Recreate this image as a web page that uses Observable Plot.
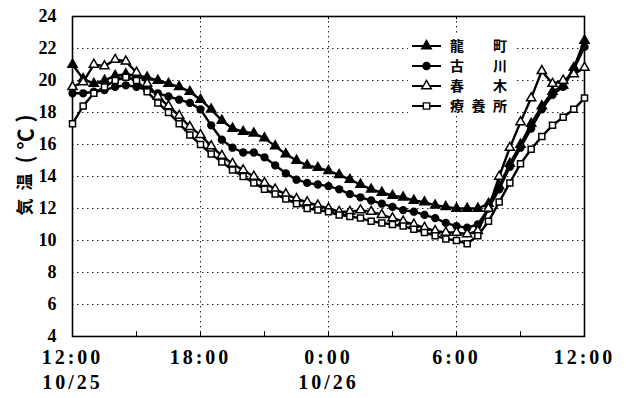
<!DOCTYPE html>
<html><head><meta charset="utf-8">
<script src="https://cdn.jsdelivr.net/npm/d3@7"></script>
<script src="https://cdn.jsdelivr.net/npm/@observablehq/plot@0.6"></script>
<style>
body{margin:0;background:#fff;}
#wrap{position:relative;width:632px;height:398px;}
</style>
</head><body><div id="wrap"></div>
<script>
// hours since 12:00 on 10/25
const hours = [0,0.5,1,1.5,2,2.5,3,3.5,4,4.5,5,5.5,6,6.5,7,7.5,8,8.5,9,9.5,10,10.5,11,11.5,12,12.5,13,13.5,14,14.5,15,15.5,16,16.5,17,17.5,18,18.5,19,19.5,20,20.5,21,21.5,22,22.5,23,23.5,24];
const seriesNames = ["龍町","古川","春木","療養所"];
const ryumachi = [21.0,20.1,19.8,20.0,20.3,20.4,20.3,20.2,20.0,19.8, 19.6,19.3,18.8,18.2,17.5,17.0,16.8,16.7,16.4,15.9, 15.4,15.0,14.7,14.55,14.35,14.1,13.8,13.5,13.2,13.0, 12.8,12.7,12.5,12.4,12.2,12.1,12.0,12.0,12.0,12.3, 13.4,14.8,16.0,17.3,18.4,19.3,19.7,20.8,22.5];
const furukawa = [19.2,19.2,19.3,19.4,19.6,19.7,19.6,19.4,19.2,19.0, 18.8,18.6,18.2,17.2,16.3,15.8,15.5,15.5,15.2,14.7, 14.2,13.8,13.6,13.5,13.4,13.2,12.9,12.7,12.5,12.3, 12.1,11.9,11.8,11.6,11.4,11.1,10.9,10.8,11.0,12.0, 13.2,14.6,15.8,17.0,18.2,19.1,19.6,20.7,22.1];
const haruki = [19.6,19.9,21.0,20.9,21.3,21.2,20.5,19.8,19.0,18.4, 17.8,17.1,16.6,15.9,15.3,14.8,14.4,14.0,13.6,13.2, 12.9,12.6,12.4,12.2,12.0,11.8,11.8,11.9,11.8,11.6, 11.4,11.2,11.0,10.8,10.6,10.5,10.5,10.4,10.6,12.0, 14.0,15.8,17.4,18.9,20.6,19.8,20.0,20.4,20.8];
const ryoyosho = [17.3,18.4,19.2,19.6,20.0,20.2,20.0,19.3,18.6,18.0, 17.3,16.6,16.0,15.4,14.9,14.4,14.0,13.6,13.2,12.9, 12.6,12.3,12.0,11.9,11.8,11.6,11.5,11.4,11.2,11.1, 11.0,10.9,10.7,10.5,10.3,10.1,10.0,9.8,10.3,11.2, 12.4,13.6,14.8,15.7,16.5,17.2,17.7,18.2,18.9];
const yTicks = [4,6,8,10,12,14,16,18,20,22,24];
const yGrid = [6,8,10,12,14,16,18,20,22];
const xTicks = [0,6,12,18,24];
const xTickLabels = ["12:00\n10/25","18:00","0:00\n10/26","6:00","12:00"];
const xGrid = [6,12,18];
const xMinor = [3,6,9,12,15,18,21];
const yLabelParts = ["気","温","(℃)"];

const values = [ryumachi, furukawa, haruki, ryoyosho];
const styles = [
  {symbol:"triangle", fill:"#000"},
  {symbol:"circle", fill:"#000"},
  {symbol:"triangle", fill:"#fff"},
  {symbol:"square", fill:"#fff"}
];
const table = [];
seriesNames.forEach((name, s) => values[s].forEach((t, i) => table.push({name, s, h: hours[i], t})));
const labelMap = new Map(xTicks.map((d,i)=>[d, xTickLabels[i]]));

const serif = "'Liberation Serif', 'DejaVu Serif', serif";
const cjk = "'Noto Sans CJK JP', 'Noto Sans CJK SC', sans-serif";

const marks = [
  Plot.gridY(yGrid, {stroke:"#000", strokeOpacity:0.85, strokeDasharray:"1.5,3.5", strokeWidth:1}),
  Plot.gridX(xGrid, {stroke:"#000", strokeOpacity:0.85, strokeDasharray:"1.5,3.5", strokeWidth:1}),
  Plot.ruleX(xMinor, {y1:4, y2:4.3, stroke:"#000", strokeWidth:1}),
  Plot.ruleX(xGrid, {y1:24, y2:23.8, stroke:"#000", strokeWidth:1}),
  Plot.frame({stroke:"#000", strokeWidth:1.6}),
  Plot.axisY({ticks:yTicks, tickSize:0, tickPadding:16, label:null, fontFamily:serif, fontSize:18, fontWeight:"bold"}),
  Plot.axisX({ticks:xTicks, tickSize:0, tickPadding:10, label:null, tickFormat:d=>labelMap.get(d), fontFamily:serif, fontSize:20, fontWeight:"bold", lineHeight:1.25}),
  Plot.line(table, {x:"h", y:"t", z:"name", stroke:"#000", strokeWidth:2.4})
];
seriesNames.forEach((name, s) => {
  marks.push(Plot.dot(table.filter(d=>d.s===s), {x:"h", y:"t", symbol:()=>styles[s].symbol, r:3.4, fill:styles[s].fill, stroke:"#000", strokeWidth:1.5}));
});

const chart = Plot.plot({
  width:632, height:398,
  marginLeft:72, marginRight:48, marginTop:16, marginBottom:62,
  x:{domain:[0,24]},
  y:{domain:[4,24]},
  symbol:{type:"identity"},
  style:{background:"#fff", color:"#000"},
  marks
});
document.getElementById("wrap").appendChild(chart);

const svg = d3.select(chart);
svg.selectAll('g[aria-label="x-axis tick label"] text').attr("letter-spacing", 3);

// rotated y-axis title, read bottom to top
const yt = svg.append("g").attr("class","y-title");
const partPos = [{y:207, size:17, ls:0}, {y:182, size:17, ls:0}, {y:136, size:21, ls:6}];
yLabelParts.forEach((p, i) => {
  yt.append("text").attr("transform", `translate(25,${partPos[i].y}) rotate(-90)`)
    .attr("text-anchor","middle").attr("dy","0.36em").attr("letter-spacing", partPos[i].ls)
    .attr("font-family", cjk).attr("font-weight","bold").attr("font-size", partPos[i].size)
    .attr("fill","#000").text(p);
});

// legend inside the plot area (top right)
const lg = svg.append("g").attr("class","legend");
lg.append("rect").attr("x",408).attr("y",36).attr("width",106).attr("height",80).attr("fill","#fff");
const rows = [46, 66, 86, 106];
const sym = {triangle: d3.symbolTriangle, circle: d3.symbolCircle, square: d3.symbolSquare};
seriesNames.forEach((name, s) => {
  const y = rows[s];
  lg.append("line").attr("x1",412).attr("x2",441).attr("y1",y).attr("y2",y).attr("stroke","#000").attr("stroke-width",2);
  lg.append("path").attr("d", d3.symbol(sym[styles[s].symbol], 40)()).attr("transform",`translate(426.5,${y})`).attr("fill",styles[s].fill).attr("stroke","#000").attr("stroke-width",1.4);
  const chars = Array.from(name);
  const xs = chars.length === 2 ? [457,500] : [457,478.5,500];
  chars.forEach((c,i) => {
    lg.append("text").attr("x",xs[i]).attr("y",y).attr("dy","0.36em").attr("text-anchor","middle")
      .attr("font-family",cjk).attr("font-weight","bold").attr("font-size",14).attr("fill","#000").text(c);
  });
});
</script>
</body></html>
